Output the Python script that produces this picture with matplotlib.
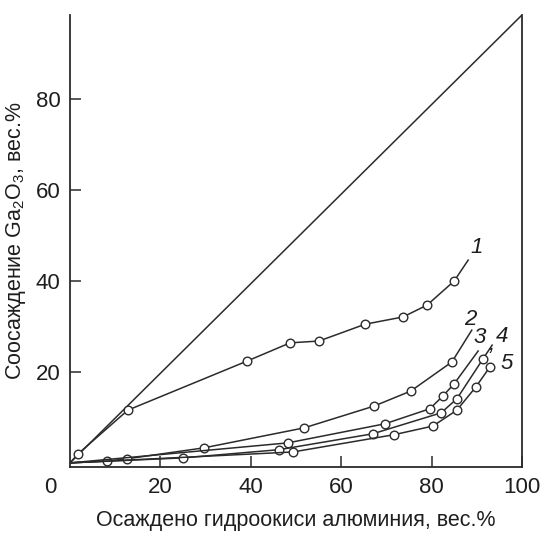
import matplotlib
matplotlib.use("Agg")
import matplotlib.pyplot as plt

plt.rcParams['font.family'] = ['Liberation Sans', 'DejaVu Sans']

# curve points (x = Al hydroxide precipitated, y = Ga2O3 co-precipitated)
x1 = [1.8, 12.8, 39.2, 48.7, 55.1, 65.3, 73.7, 79.0, 85.0]
y1 = [2.0, 11.6, 22.4, 26.4, 26.8, 30.5, 32.1, 34.7, 40.0]
end1 = (88.1, 44.6)

x2 = [8.2, 12.6, 29.6, 51.8, 67.3, 75.4, 84.5]
y2 = [0.4, 0.9, 3.3, 7.7, 12.5, 15.8, 22.2]
end2 = (88.9, 29.2)

x3 = [48.2, 69.7, 79.6, 82.5, 85.0]
y3 = [4.4, 8.6, 11.9, 14.7, 17.4]
end3 = (90.3, 24.6)

x4 = [25.0, 46.2, 67.0, 82.1, 85.6, 91.4]
y4 = [1.1, 2.9, 6.4, 11.0, 14.1, 22.9]
end4 = (93.4, 25.9)

x5 = [49.3, 71.7, 80.3, 85.6, 89.8, 92.9]
y5 = [2.4, 6.2, 8.1, 11.6, 16.7, 21.1]
end5 = None

diag_x = [0, 100]
diag_y = [0, 98.5]

xticks = [20, 40, 60, 80, 100]
yticks = [20, 40, 60, 80]

col = "#2b2b2b"
tcol = "#1e1e1e"

fig = plt.figure(figsize=(5.4, 5.34), dpi=100)
ax = fig.add_axes([0.1296, 0.1255, 0.837, 0.8464])

ax.plot(diag_x, diag_y, color=col, lw=1.1)

curves = [(x1, y1, end1), (x2, y2, end2), (x3, y3, end3), (x4, y4, end4), (x5, y5, end5)]
for xs, ys, end in curves:
    lx = [0] + xs
    ly = [0] + ys
    if end is not None:
        lx = lx + [end[0]]
        ly = ly + [end[1]]
    ax.plot(lx, ly, color=col, lw=1.1)
    ax.plot(xs, ys, "o", ms=6.2, mfc="white", mec=col, mew=1.0)

# curve numbers
lab_kw = dict(fontsize=16, style="italic", color=tcol, ha="center", va="center")
ax.text(90.0, 47.3, "1", **lab_kw)
ax.text(88.5, 31.6, "2", **lab_kw)
ax.text(90.7, 27.5, "3", **lab_kw)
ax.text(93.3, 26.0, ",", **lab_kw)
ax.text(95.6, 27.7, "4", **lab_kw)
ax.text(96.7, 21.8, "5", **lab_kw)

ax.set_xlim(0, 100)
ax.set_ylim(-0.9, 98.5)
ax.set_xticks(xticks)
ax.set_yticks(yticks)
ax.tick_params(direction="in", length=8, width=1.1, labelsize=16, pad=7, colors=col, labelcolor=tcol)
ax.tick_params(axis="x", which="both", top=False)

ax.spines["top"].set_visible(False)
for s in ["left", "right", "bottom"]:
    ax.spines[s].set_linewidth(1.3)
    ax.spines[s].set_color(col)

ax.annotate("0", xy=(0, 0), xycoords="axes fraction", xytext=(-14, -7),
            textcoords="offset points", ha="center", va="top", fontsize=16, color=tcol)

ax.set_xlabel("Осаждено гидроокиси алюминия, вес.%", fontsize=15.5, labelpad=9, color=tcol)
ax.set_ylabel("Соосаждение Ga$_\\mathregular{2}$O$_\\mathregular{3}$, вес.%", fontsize=15.5, labelpad=5.5, color=tcol)

fig.savefig("out.png", dpi=100)
